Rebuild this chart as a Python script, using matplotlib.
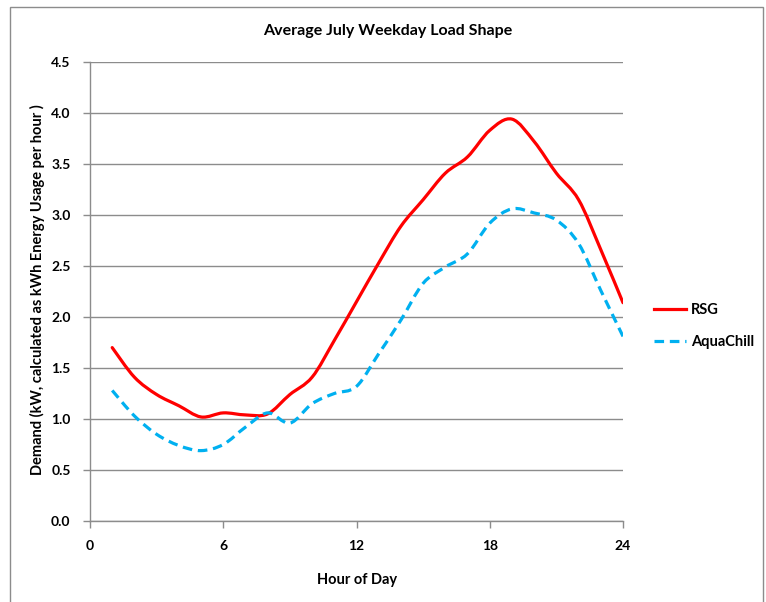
import matplotlib
matplotlib.use("Agg")
import matplotlib.pyplot as plt
from matplotlib.path import Path
from matplotlib.patches import PathPatch, Rectangle
from matplotlib.lines import Line2D
import numpy as np

plt.rcParams['font.family'] = ['Lato', 'DejaVu Sans']

hours = list(range(1, 25))
rsg = [1.70, 1.41, 1.24, 1.13, 1.02, 1.06, 1.04, 1.05, 1.24, 1.41, 1.77, 2.15,
       2.53, 2.89, 3.15, 3.41, 3.57, 3.83, 3.94, 3.72, 3.41, 3.15, 2.66, 2.14]
aquachill = [1.28, 1.03, 0.85, 0.74, 0.69, 0.75, 0.92, 1.06, 0.96, 1.15, 1.25, 1.32,
             1.64, 1.97, 2.33, 2.49, 2.62, 2.92, 3.06, 3.02, 2.95, 2.72, 2.26, 1.81]
x_ticks = [0, 6, 12, 18, 24]
y_ticks = [0.0, 0.5, 1.0, 1.5, 2.0, 2.5, 3.0, 3.5, 4.0, 4.5]


def smooth_path(xs, ys):
    """Catmull-Rom style smoothing rendered as cubic Bezier segments."""
    p = np.column_stack([xs, ys]).astype(float)
    n = len(p)
    verts = [p[0]]
    codes = [Path.MOVETO]
    t = 1.0 / 6.0
    for i in range(n - 1):
        p0 = p[i - 1] if i > 0 else p[i]
        p1 = p[i]
        p2 = p[i + 1]
        p3 = p[i + 2] if i + 2 < n else p[i + 1]
        c1 = p1 + (p2 - p0) * t
        c2 = p2 - (p3 - p1) * t
        verts += [c1, c2, p2]
        codes += [Path.CURVE4] * 3
    return Path(verts, codes)


fig = plt.figure(figsize=(7.66, 6.02), dpi=100)
# outer chart border
fig.patches.append(Rectangle((10 / 766, -0.01), 753 / 766, 1 - 7 / 602 + 0.01,
                             transform=fig.transFigure, fill=False,
                             edgecolor='#8c8c8c', linewidth=1.0))

ax = fig.add_axes([90 / 766, 1 - 521 / 602, (623 - 90) / 766, (521 - 62) / 602])

red = '#ff0000'
blue = '#00b0f0'
lw = 2.3
dash = (0, (3.0, 1.8))
ax.add_patch(PathPatch(smooth_path(hours, rsg), fill=False, edgecolor=red,
                       linewidth=lw, capstyle='round', joinstyle='round'))
ax.add_patch(PathPatch(smooth_path(hours, aquachill), fill=False, edgecolor=blue,
                       linewidth=lw, linestyle=dash, capstyle='butt'))

ax.set_xlim(0, 24)
ax.set_ylim(0, 4.5)
ax.set_xticks(x_ticks)
ax.set_yticks(y_ticks)
ax.set_xticklabels([str(v) for v in x_ticks], fontsize=10, fontweight='bold')
ax.set_yticklabels([f"{v:.1f}" for v in y_ticks], fontsize=10, fontweight='bold')
ax.tick_params(axis='both', direction='out', length=5, color='#8c8c8c', width=1)
ax.tick_params(axis='x', pad=9)
ax.tick_params(axis='y', pad=9)
ax.grid(axis='y', color='#8c8c8c', linewidth=1.0)
ax.set_axisbelow(True)
for s in ['top', 'right']:
    ax.spines[s].set_visible(False)
for s in ['left', 'bottom']:
    ax.spines[s].set_color('#8c8c8c')
    ax.spines[s].set_linewidth(1.0)

fig.text(388 / 766, 1 - 31 / 602, 'Average July Weekday Load Shape', ha='center',
         va='center', fontsize=11.5, fontweight='bold')
fig.text(357 / 766, 1 - 580 / 602, 'Hour of Day', ha='center', va='center',
         fontsize=10.5, fontweight='bold')
fig.text(37 / 766, 1 - 290 / 602, 'Demand (kW, calculated as kWh Energy Usage per hour )',
         ha='center', va='center', rotation=90, fontsize=10.5, fontweight='bold')

handles = [Line2D([], [], color=red, linewidth=lw),
           Line2D([], [], color=blue, linewidth=lw, linestyle=dash)]
leg = fig.legend(handles, ['RSG', 'AquaChill'], loc='center left',
                 bbox_to_anchor=(641 / 766, 1 - 326 / 602), frameon=False,
                 handlelength=2.2, labelspacing=1.25, handletextpad=0.3,
                 prop={'weight': 'bold', 'size': 10.5})

fig.savefig('out.png', dpi=100)
